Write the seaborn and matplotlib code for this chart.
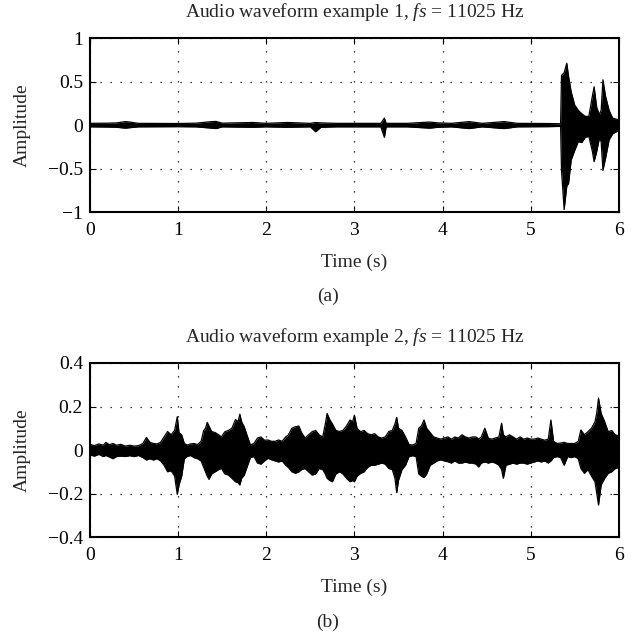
import numpy as np
import pandas as pd
import matplotlib
matplotlib.use("Agg")
import matplotlib.pyplot as plt
import seaborn as sns

# ---- Data (envelope of each waveform) ----
time_a = [0.00, 0.20, 0.30, 0.40, 0.45, 0.55, 1.00, 1.20, 1.38, 1.43, 1.50, 1.85, 2.00,
          2.24, 2.50, 2.56, 2.62, 2.80, 3.00, 3.30, 3.34, 3.36, 3.60, 3.85, 3.95, 4.10,
          4.30, 4.45, 4.70, 4.85, 5.20, 5.34, 5.35, 5.38, 5.41, 5.43, 5.46, 5.50, 5.54,
          5.58, 5.62, 5.66, 5.70, 5.72, 5.75, 5.78, 5.80, 5.82, 5.85, 5.89, 5.93, 6.00]
upper_a = [0.02, 0.022, 0.025, 0.04, 0.035, 0.02, 0.018, 0.022, 0.04, 0.042, 0.022, 0.03, 0.02,
           0.03, 0.02, 0.03, 0.025, 0.02, 0.02, 0.02, 0.08, 0.02, 0.02, 0.035, 0.025, 0.02,
           0.04, 0.02, 0.04, 0.02, 0.018, 0.015, 0.57, 0.60, 0.71, 0.56, 0.38, 0.23, 0.17,
           0.13, 0.10, 0.10, 0.33, 0.44, 0.20, 0.12, 0.17, 0.52, 0.33, 0.17, 0.08, 0.06]
lower_a = [-0.02, -0.022, -0.025, -0.035, -0.03, -0.02, -0.018, -0.02, -0.035, -0.04, -0.02, -0.025, -0.02,
           -0.025, -0.02, -0.077, -0.025, -0.02, -0.02, -0.02, -0.14, -0.02, -0.02, -0.035, -0.025, -0.02,
           -0.04, -0.02, -0.04, -0.02, -0.018, -0.015, -0.52, -0.97, -0.70, -0.67, -0.40, -0.29, -0.19,
           -0.20, -0.14, -0.13, -0.30, -0.42, -0.30, -0.15, -0.19, -0.52, -0.38, -0.17, -0.10, -0.06]

time_b = [0.00, 0.05, 0.10, 0.15, 0.18, 0.22, 0.26, 0.30, 0.35, 0.40, 0.45, 0.50, 0.55, 0.60,
          0.64, 0.68, 0.72, 0.76, 0.80, 0.84, 0.88, 0.92, 0.96, 0.99, 1.01, 1.04, 1.07, 1.10,
          1.14, 1.18, 1.22, 1.26, 1.29, 1.31, 1.33, 1.35, 1.38, 1.42, 1.46, 1.49, 1.53, 1.57,
          1.61, 1.65, 1.68, 1.70, 1.72, 1.75, 1.78, 1.82, 1.86, 1.90, 1.94, 1.98, 2.02, 2.06,
          2.10, 2.14, 2.18, 2.22, 2.25, 2.29, 2.33, 2.37, 2.40, 2.44, 2.48, 2.52, 2.56, 2.60,
          2.64, 2.67, 2.69, 2.72, 2.75, 2.79, 2.83, 2.87, 2.91, 2.95, 2.98, 3.00, 3.03, 3.07,
          3.11, 3.15, 3.19, 3.23, 3.27, 3.31, 3.35, 3.39, 3.43, 3.46, 3.48, 3.50, 3.54, 3.58,
          3.62, 3.66, 3.70, 3.73, 3.76, 3.79, 3.82, 3.86, 3.90, 3.94, 3.98, 4.02, 4.06, 4.10,
          4.14, 4.18, 4.22, 4.26, 4.30, 4.34, 4.38, 4.41, 4.44, 4.48, 4.52, 4.56, 4.60, 4.64,
          4.67, 4.69, 4.72, 4.76, 4.80, 4.84, 4.88, 4.92, 4.96, 5.00, 5.04, 5.08, 5.12, 5.16,
          5.20, 5.23, 5.26, 5.30, 5.34, 5.38, 5.42, 5.46, 5.50, 5.54, 5.57, 5.61, 5.65, 5.69,
          5.73, 5.75, 5.77, 5.80, 5.84, 5.88, 5.92, 5.96, 6.00]
upper_b = [0.026, 0.02, 0.028, 0.022, 0.035, 0.024, 0.03, 0.022, 0.026, 0.018, 0.022, 0.018, 0.02, 0.03,
           0.058, 0.035, 0.03, 0.028, 0.035, 0.06, 0.085, 0.07, 0.09, 0.153, 0.08, 0.07, 0.03, 0.023,
           0.028, 0.03, 0.025, 0.04, 0.09, 0.10, 0.127, 0.11, 0.085, 0.08, 0.07, 0.06, 0.084, 0.09,
           0.10, 0.14, 0.13, 0.165, 0.13, 0.107, 0.07, 0.023, 0.03, 0.055, 0.06, 0.045, 0.046, 0.04,
           0.04, 0.046, 0.04, 0.06, 0.069, 0.10, 0.107, 0.11, 0.08, 0.055, 0.07, 0.084, 0.09, 0.07,
           0.06, 0.12, 0.168, 0.14, 0.12, 0.09, 0.085, 0.09, 0.11, 0.138, 0.13, 0.16, 0.10, 0.084,
           0.09, 0.075, 0.07, 0.075, 0.06, 0.055, 0.06, 0.085, 0.09, 0.12, 0.15, 0.10, 0.09, 0.06,
           0.025, 0.023, 0.03, 0.10, 0.11, 0.138, 0.10, 0.08, 0.06, 0.055, 0.05, 0.055, 0.06, 0.05,
           0.06, 0.055, 0.07, 0.06, 0.055, 0.06, 0.06, 0.05, 0.06, 0.10, 0.054, 0.05, 0.055, 0.06,
           0.123, 0.07, 0.06, 0.07, 0.06, 0.05, 0.06, 0.05, 0.055, 0.05, 0.05, 0.055, 0.05, 0.045,
           0.05, 0.138, 0.04, 0.03, 0.032, 0.035, 0.03, 0.03, 0.03, 0.04, 0.092, 0.07, 0.084, 0.10,
           0.13, 0.17, 0.238, 0.168, 0.13, 0.084, 0.09, 0.07, 0.065]
lower_b = [-0.023, -0.028, -0.02, -0.03, -0.025, -0.032, -0.04, -0.03, -0.028, -0.03, -0.026, -0.03, -0.025, -0.035,
           -0.046, -0.04, -0.046, -0.04, -0.05, -0.07, -0.10, -0.095, -0.12, -0.204, -0.16, -0.12, -0.04, -0.03,
           -0.025, -0.035, -0.04, -0.05, -0.08, -0.10, -0.12, -0.135, -0.11, -0.10, -0.09, -0.084, -0.11, -0.115,
           -0.13, -0.146, -0.15, -0.161, -0.13, -0.115, -0.08, -0.035, -0.03, -0.06, -0.065, -0.05, -0.038, -0.045,
           -0.05, -0.055, -0.05, -0.07, -0.08, -0.10, -0.107, -0.10, -0.09, -0.085, -0.10, -0.115, -0.11, -0.085,
           -0.09, -0.11, -0.13, -0.14, -0.146, -0.11, -0.10, -0.11, -0.13, -0.146, -0.14, -0.146, -0.12, -0.107,
           -0.10, -0.08, -0.07, -0.07, -0.065, -0.06, -0.065, -0.085, -0.09, -0.13, -0.196, -0.14, -0.09, -0.07,
           -0.03, -0.026, -0.03, -0.11, -0.12, -0.127, -0.11, -0.07, -0.06, -0.05, -0.045, -0.05, -0.054, -0.06,
           -0.05, -0.06, -0.06, -0.055, -0.06, -0.06, -0.065, -0.078, -0.06, -0.055, -0.06, -0.055, -0.06, -0.07,
           -0.09, -0.13, -0.07, -0.065, -0.06, -0.065, -0.06, -0.06, -0.065, -0.06, -0.055, -0.05, -0.055, -0.05,
           -0.06, -0.05, -0.035, -0.03, -0.035, -0.07, -0.03, -0.035, -0.03, -0.04, -0.085, -0.107, -0.09, -0.12,
           -0.146, -0.20, -0.253, -0.16, -0.13, -0.107, -0.10, -0.085, -0.08]

x_ticks = [0, 1, 2, 3, 4, 5, 6]
y_ticks_a = [-1, -0.5, 0, 0.5, 1]
y_ticks_b = [-0.4, -0.2, 0, 0.2, 0.4]
titles = ["Audio waveform example 1, $\\mathit{fs}$ = 11025 Hz",
          "Audio waveform example 2, $\\mathit{fs}$ = 11025 Hz"]
panel_labels = ["(a)", "(b)"]

# ---- Style ----
sns.set_style("ticks")
plt.rcParams["font.family"] = ["Liberation Serif", "DejaVu Serif"]
plt.rcParams["mathtext.fontset"] = "custom"
plt.rcParams["mathtext.it"] = "Liberation Serif:italic"
plt.rcParams["mathtext.rm"] = "Liberation Serif"
plt.rcParams["axes.unicode_minus"] = True

FS = 14

fig = plt.figure(figsize=(6.34, 6.41), dpi=100)
ax_a = fig.add_axes([0.142, 0.669, 0.834, 0.2717])
ax_b = fig.add_axes([0.142, 0.1622, 0.834, 0.2715])

panels = [
    (ax_a, time_a, upper_a, lower_a, y_ticks_a, (-1, 1)),
    (ax_b, time_b, upper_b, lower_b, y_ticks_b, (-0.4, 0.4)),
]

for i, (ax, t, up, lo, yt, ylim) in enumerate(panels):
    df = pd.DataFrame({"t": t, "up": up, "lo": lo})
    ax.fill_between(df["t"], df["lo"], df["up"], color="black", lw=0, zorder=3)
    sns.lineplot(data=df, x="t", y="up", ax=ax, color="black", lw=0.9, zorder=3)
    sns.lineplot(data=df, x="t", y="lo", ax=ax, color="black", lw=0.9, zorder=3)
    ax.set_xlim(0, 6)
    ax.set_ylim(*ylim)
    ax.set_xticks(x_ticks)
    ax.set_yticks(yt)
    ax.set_xticklabels([str(v) for v in x_ticks])
    ax.set_yticklabels([("%g" % v).replace("-", "\u2212") for v in yt])
    ax.grid(True, color="black", linestyle=(0, (1, 7)), linewidth=0.9)
    ax.tick_params(direction="in", top=True, right=True, length=4, width=0.8,
                   colors="black", labelsize=FS)
    ax.tick_params(axis="x", pad=7)
    ax.tick_params(axis="y", pad=5)
    for s in ax.spines.values():
        s.set_linewidth(1.5)
        s.set_color("black")
    ax.set_title(titles[i], fontsize=FS, pad=15)
    ax.set_xlabel("Time (s)", fontsize=FS, labelpad=11)
    ax.set_ylabel("Amplitude", fontsize=FS, labelpad=12)

fig.text(0.517, 1 - 296 / 641, panel_labels[0], ha="center", va="center", fontsize=FS)
fig.text(0.517, 1 - 622 / 641, panel_labels[1], ha="center", va="center", fontsize=FS)

fig.savefig("out.png", dpi=100, facecolor="white")
